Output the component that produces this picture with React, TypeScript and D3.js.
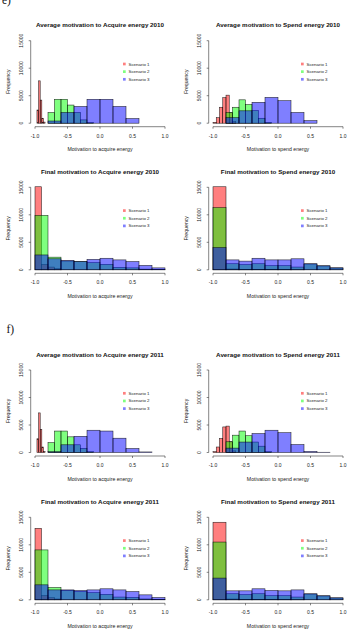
import React from 'react';
import * as d3 from 'd3';

// ---- bin breaks ----
const breaksRedAvgAcq = [-0.97, -0.945, -0.92, -0.895, -0.87, -0.845];
const breaksRedAvgSpend = [-1.0, -0.95, -0.9, -0.85, -0.8, -0.75, -0.7, -0.65];
const breaksGreenAvg = [-0.8, -0.7, -0.6, -0.5, -0.4, -0.3, -0.2, -0.1];
const breaksBlueAvg = [-0.8, -0.6, -0.4, -0.2, 0.0, 0.2, 0.4, 0.6, 0.8];
const breaksRedFinalAcq = [-1.0, -0.9, -0.8, -0.7, -0.6];
const breaksFinal = [-1.0, -0.8, -0.6, -0.4, -0.2, 0.0, 0.2, 0.4, 0.6, 0.8, 1.0];

// ---- 2010 counts ----
const avgAcq2010Red = [2400, 7700, 4200, 900, 200];
const avgAcq2010Green = [1950, 4350, 4350, 3300, 1950, 600, 100];
const avgAcq2010Blue = [400, 1950, 3050, 4350, 4350, 3050, 850, 0];

const avgSpend2010Red = [150, 1000, 2900, 4650, 5100, 1900, 300];
const avgSpend2010Green = [1950, 2900, 4250, 3400, 2300, 900, 150];
const avgSpend2010Blue = [1000, 2250, 3800, 4700, 4100, 1950, 470, 0];

const finAcq2010Red = [15100, 1000, 500, 200];
const finAcq2010Green = [9900, 2300, 1600, 1500, 1300, 1000, 450, 350, 120, 40];
const finAcq2010Blue = [2700, 2000, 1700, 1500, 1900, 2100, 1800, 1500, 800, 350];

const finSpend2010Red = [15100, 150, 80, 50, 30, 20, 10, 0, 0, 0];
const finSpend2010Green = [11300, 1100, 950, 1100, 750, 750, 500, 1050, 700, 330];
const finSpend2010Blue = [4050, 1800, 1580, 2100, 1800, 1800, 2000, 1100, 730, 360];

// ---- 2011 counts ----
const avgAcq2011Red = [2500, 7200, 4200, 1000, 200];
const avgAcq2011Green = [1800, 3900, 3900, 2850, 1400, 750, 150];
const avgAcq2011Blue = [150, 1400, 2950, 4050, 3900, 2600, 730, 100];

const avgSpend2011Red = [150, 1000, 2550, 4650, 4800, 1950, 300];
const avgSpend2011Green = [1950, 3150, 3900, 3050, 1900, 1150, 150];
const avgSpend2011Blue = [800, 1900, 3450, 4050, 3600, 1450, 200, 50];

const finAcq2011Red = [13000, 800, 400, 150];
const finAcq2011Green = [9070, 2250, 1700, 1500, 1300, 1000, 500, 450, 150, 50];
const finAcq2011Blue = [2720, 1800, 1800, 1700, 1800, 2000, 1800, 1500, 900, 420];

const finSpend2011Red = [14100, 150, 80, 50, 30, 20, 10, 0, 0, 0];
const finSpend2011Green = [10500, 1100, 950, 1100, 750, 750, 500, 1050, 700, 330];
const finSpend2011Blue = [3950, 1630, 1630, 2000, 1700, 1630, 1800, 1090, 730, 360];

// ---- labels ----
const scenarioNames = ['Scenario 1', 'Scenario 2', 'Scenario 3'];
const scenarioColors = ['rgb(255,0,0)', 'rgb(0,255,0)', 'rgb(0,0,255)'];
const xTicks = [-1.0, -0.5, 0.0, 0.5, 1.0];
const yTicks = [0, 5000, 10000, 15000];

const FONT = "'Liberation Sans', Arial, sans-serif";

type Hist = { breaks: number[]; counts: number[] };

type PanelProps = {
  x0: number;
  top: number;
  title: string;
  xlabel: string;
  hists: Hist[];
};

function Panel({ x0, top, title, xlabel, hists }: PanelProps) {
  const x = d3.scaleLinear().domain([-1, 1]).range([x0, x0 + 130]);
  const y = d3.scaleLinear().domain([0, 15000]).range([top + 82.5, top]);
  const axisX = x0 - 4.3;
  const axisY = top + 86;
  return (
    <g>
      {hists.map((h, si) => (
        <g key={si}>
          {h.counts.map((c, i) => (
            <rect
              key={i}
              x={x(h.breaks[i])}
              y={y(c)}
              width={x(h.breaks[i + 1]) - x(h.breaks[i])}
              height={y(0) - y(c)}
              fill={scenarioColors[si]}
              fillOpacity={0.5}
              stroke="#000"
              strokeOpacity={0.85}
              strokeWidth={0.55}
            />
          ))}
        </g>
      ))}
      {/* title */}
      <text x={x0 + 65} y={top - 16} fontFamily={FONT} fontWeight="bold" fontSize={6.25}
        textAnchor="middle" dominantBaseline="central" fill="#111">{title}</text>
      {/* y axis */}
      <line x1={axisX} x2={axisX} y1={y(0)} y2={y(15000)} stroke="#333" strokeWidth={0.6} />
      {yTicks.map((t) => (
        <g key={t}>
          <line x1={axisX - 2} x2={axisX} y1={y(t)} y2={y(t)} stroke="#333" strokeWidth={0.6} />
          <text transform={`translate(${x0 - 14.5},${y(t)}) rotate(-90)`} fontFamily={FONT}
            fontSize={5} textAnchor="middle" dominantBaseline="central" fill="#222">{t}</text>
        </g>
      ))}
      <text transform={`translate(${x0 - 27},${top + 41}) rotate(-90)`} fontFamily={FONT}
        fontSize={5.2} textAnchor="middle" dominantBaseline="central" fill="#222">Frequency</text>
      {/* x axis */}
      <line x1={x(-1)} x2={x(1)} y1={axisY} y2={axisY} stroke="#333" strokeWidth={0.6} />
      {xTicks.map((t) => (
        <g key={t}>
          <line x1={x(t)} x2={x(t)} y1={axisY} y2={axisY + 2} stroke="#333" strokeWidth={0.6} />
          <text x={x(t)} y={top + 95} fontFamily={FONT} fontSize={5} textAnchor="middle"
            dominantBaseline="central" fill="#222">{t.toFixed(1)}</text>
        </g>
      ))}
      <text x={x0 + 65} y={top + 108.5} fontFamily={FONT} fontSize={5.2} textAnchor="middle"
        dominantBaseline="central" fill="#222">{xlabel}</text>
      {/* legend */}
      {scenarioNames.map((n, i) => (
        <g key={n}>
          <rect x={x0 + 88} y={top + 23.3 + i * 7.65 - 1.35} width={2.7} height={2.7}
            fill={scenarioColors[i]} fillOpacity={0.5} />
          <text x={x0 + 93.5} y={top + 23.3 + i * 7.65} fontFamily={FONT} fontSize={4.4}
            dominantBaseline="central" fill="#222">{n}</text>
        </g>
      ))}
    </g>
  );
}

export default function App() {
  const L = 35;
  const R = 213;
  const acqX = 'Motivation to acquire energy';
  const spX = 'Motivation to spend energy';
  return (
    <svg width={356} height={632} style={{ position: 'absolute', left: 0, top: 0, background: '#fff' }}>
      <rect width={356} height={632} fill="#fff" />
      <text x={2} y={3.5} fontFamily="'Liberation Serif', serif" fontSize={11.5} fill="#111">e)</text>
      <text x={6.5} y={333} fontFamily="'Liberation Serif', serif" fontSize={11.5} fill="#111">f)</text>

      <Panel x0={L} top={40.7} title="Average motivation to Acquire energy 2010" xlabel={acqX}
        hists={[
          { breaks: breaksRedAvgAcq, counts: avgAcq2010Red },
          { breaks: breaksGreenAvg, counts: avgAcq2010Green },
          { breaks: breaksBlueAvg, counts: avgAcq2010Blue },
        ]} />
      <Panel x0={R} top={40.7} title="Average motivation to Spend energy 2010" xlabel={spX}
        hists={[
          { breaks: breaksRedAvgSpend, counts: avgSpend2010Red },
          { breaks: breaksGreenAvg, counts: avgSpend2010Green },
          { breaks: breaksBlueAvg, counts: avgSpend2010Blue },
        ]} />
      <Panel x0={L} top={187.3} title="Final motivation to Acquire energy 2010" xlabel={acqX}
        hists={[
          { breaks: breaksRedFinalAcq, counts: finAcq2010Red },
          { breaks: breaksFinal, counts: finAcq2010Green },
          { breaks: breaksFinal, counts: finAcq2010Blue },
        ]} />
      <Panel x0={R} top={187.3} title="Final motivation to Spend energy 2010" xlabel={spX}
        hists={[
          { breaks: breaksFinal, counts: finSpend2010Red },
          { breaks: breaksFinal, counts: finSpend2010Green },
          { breaks: breaksFinal, counts: finSpend2010Blue },
        ]} />

      <Panel x0={L} top={370} title="Average motivation to Acquire energy 2011" xlabel={acqX}
        hists={[
          { breaks: breaksRedAvgAcq, counts: avgAcq2011Red },
          { breaks: breaksGreenAvg, counts: avgAcq2011Green },
          { breaks: breaksBlueAvg, counts: avgAcq2011Blue },
        ]} />
      <Panel x0={R} top={370} title="Average motivation to Spend energy 2011" xlabel={spX}
        hists={[
          { breaks: breaksRedAvgSpend, counts: avgSpend2011Red },
          { breaks: breaksGreenAvg, counts: avgSpend2011Green },
          { breaks: breaksBlueAvg, counts: avgSpend2011Blue },
        ]} />
      <Panel x0={L} top={517.3} title="Final motivation to Acquire energy 2011" xlabel={acqX}
        hists={[
          { breaks: breaksRedFinalAcq, counts: finAcq2011Red },
          { breaks: breaksFinal, counts: finAcq2011Green },
          { breaks: breaksFinal, counts: finAcq2011Blue },
        ]} />
      <Panel x0={R} top={517.3} title="Final motivation to Spend energy 2011" xlabel={spX}
        hists={[
          { breaks: breaksFinal, counts: finSpend2011Red },
          { breaks: breaksFinal, counts: finSpend2011Green },
          { breaks: breaksFinal, counts: finSpend2011Blue },
        ]} />
    </svg>
  );
}
